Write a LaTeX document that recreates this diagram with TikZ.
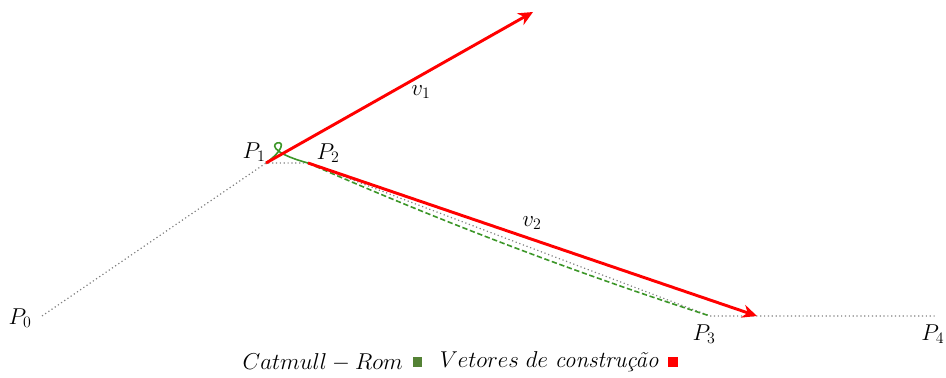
\documentclass[tikz,border=0pt]{standalone}
\usepackage{amsmath,amssymb}
\usetikzlibrary{arrows.meta,positioning}

\definecolor{crgreen}{RGB}{60,150,40}
\definecolor{sqgreen}{RGB}{84,130,53}

\begin{document}
\begin{tikzpicture}[
  x=0.02646cm, y=-0.02646cm,
  >=Stealth,
  lbl/.style={font=\LARGE, inner sep=1pt},
  guide/.style={gray, dotted, line width=0.9pt},
  vec/.style={->, red, line width=2.2pt, >={Stealth[length=11pt,width=10pt]}},
  crom/.style={crgreen, line width=1.2pt},
  swatch/.style={minimum size=7pt, inner sep=0pt}]

\useasboundingbox (0,0) rectangle (946,378);

% Control points
\coordinate (p0) at (42,316);
\coordinate (p1) at (266,163);
\coordinate (p2) at (308,163);
\coordinate (p3) at (710,316);
\coordinate (p4) at (935,316);
\coordinate (v1) at (533,12);
\coordinate (v2) at (757,316);

% Control polygon
\draw[guide] (p0) -- (p1) -- (p2) -- (p3) -- (p4);

% Catmull-Rom curve
\draw[crom] (p1) .. controls (284,150) and (284,141) .. (277,143)
  .. controls (270,146) and (278,155) .. (p2);
\draw[crom, dash pattern=on 4pt off 2pt] (p2) .. controls (442,222) and (576,273) .. (p3);

% Construction vectors
\draw[vec] (p1) -- (v1);
\draw[vec] (p2) -- (v2);

% Labels
\node[lbl] (l0) at (20,318) {$P_0$};
\node[lbl] (l1) at (254,152) {$P_1$};
\node[lbl] (l2) at (328,153) {$P_2$};
\node[lbl] (l3) at (704,334) {$P_3$};
\node[lbl, anchor=east] (l4) at (946,334) {$P_4$};
\node[lbl] (lv1) at (421,92) {$v_1$};
\node[lbl] (lv2) at (532,223) {$v_2$};

% Legend
\node[lbl, anchor=west] (leg1) at (241,362) {$Catmull - Rom$};
\node[swatch, fill=sqgreen, right=6pt of leg1] (sq1) {};
\node[lbl, right=12pt of sq1] (leg2) {$Vetores\ de$ \textit{constru\c{c}\~ao}};
\node[swatch, fill=red, right=6pt of leg2] (sq2) {};
\end{tikzpicture}
\end{document}
